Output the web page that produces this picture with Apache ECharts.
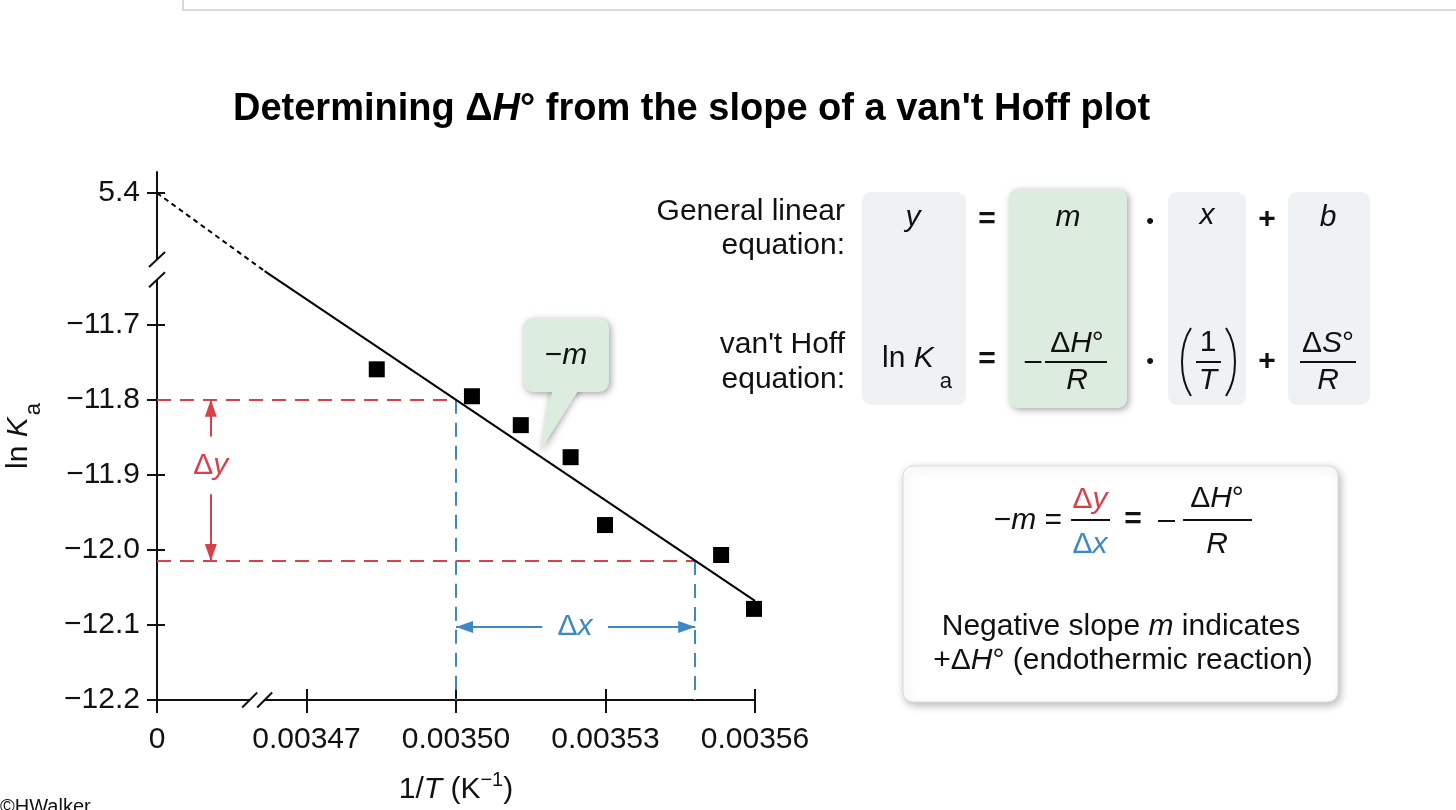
<!DOCTYPE html>
<html><head><meta charset="utf-8">
<script src="https://cdn.jsdelivr.net/npm/echarts@6/dist/echarts.min.js"></script>
<style>html,body{margin:0;padding:0;background:#fff;overflow:hidden}#c{width:1456px;height:810px}</style>
</head><body><div id="c"></div>
<script>
// ---- data ----
const invT = [0.0034841, 0.0035032, 0.0035130, 0.0035230, 0.0035299, 0.0035532, 0.0035598];
const lnKa = [-11.7594, -11.7953, -11.8338, -11.8765, -11.9669, -12.0068, -12.0786];
const xTickValues = [0.00344, 0.00347, 0.00350, 0.00353, 0.00356];
const xTickLabels = ['0', '0.00347', '0.00350', '0.00353', '0.00356'];
const yTickValues = [-12.2, -12.1, -12.0, -11.9, -11.8, -11.7, -11.5245];
const yTickLabels = ['\u221212.2', '\u221212.1', '\u221212.0', '\u221211.9', '\u221211.8', '\u221211.7', '5.4'];
const fitSolidX = [0.0034616, 0.00356];
const fitSolidY = [-11.6285, -12.068];
const fitDashX = [0.00344, 0.0034616];
const fitDashY = [-11.5245, -11.6285];
const slopeX = [0.00350, 0.003548];
const slopeY = [-11.8, -12.0148];
const xRange = [0.00344, 0.00356];
const yRange = [-12.2, -11.4965];
const xBreak = [0.0034586, 0.0034616];
const yBreak = [-11.640, -11.613];
const dyArrowX = 0.0034508;
const dyGap = [-11.849, -11.926];
const dxArrowY = -12.1029;
const dxGap = [0.0035173, 0.0035305];

const FONT = 'Liberation Sans, Arial, Helvetica, sans-serif';
const INK = '#111';
const RED = '#d8404b';
const BLUE = '#3b88c4';

const chart = echarts.init(document.getElementById('c'), null, {renderer: 'canvas'});

function zip(a, b) { return a.map((v, i) => [v, b[i]]); }
function near(a, b) { return Math.abs(a - b) < 1e-9; }

const axisLabelBase = {fontFamily: FONT, fontSize: 30, color: INK};

const option = {
  animation: false,
  backgroundColor: '#fff',
  title: {
    left: 228, top: 86,
    text: '{b|Determining }{b|\u0394}{bi|H}{b|\u00b0 from the slope of a van\'t Hoff plot}',
    textStyle: {
      rich: {
        b: {fontFamily: FONT, fontSize: 38, fontWeight: 'bold', color: '#000'},
        bi: {fontFamily: FONT, fontSize: 38, fontWeight: 'bold', fontStyle: 'italic', color: '#000'}
      }
    }
  },
  grid: {left: 157, top: 172, right: 701, bottom: 109, containLabel: false},
  xAxis: [{
    type: 'value', min: xRange[0], max: xRange[1], position: 'bottom',
    axisLine: {show: true, onZero: false, lineStyle: {color: INK, width: 2}},
    axisTick: {show: true, inside: false, length: 13, customValues: xTickValues, lineStyle: {color: INK, width: 2}},
    axisLabel: {show: true, margin: 25, customValues: xTickValues, ...axisLabelBase,
      formatter: v => { const i = xTickValues.findIndex(t => near(t, v)); return i >= 0 ? xTickLabels[i] : ''; }},
    splitLine: {show: false},
    name: '{n|1/}{i|T}{n| (K}{s|\u22121}{n|)}', nameLocation: 'middle', nameGap: 70,
    nameTextStyle: {rich: {
      n: {fontFamily: FONT, fontSize: 30, color: INK},
      i: {fontFamily: FONT, fontSize: 30, fontStyle: 'italic', color: INK},
      s: {fontFamily: FONT, fontSize: 20, color: INK, padding: [0, 0, 20, 0]}
    }}
  }, {
    type: 'value', min: xRange[0], max: xRange[1], position: 'bottom',
    axisLine: {show: false, onZero: false},
    axisTick: {show: true, inside: true, length: 11, customValues: xTickValues.slice(1), lineStyle: {color: INK, width: 2}},
    axisLabel: {show: false}, splitLine: {show: false}
  }],
  yAxis: [{
    type: 'value', min: yRange[0], max: yRange[1], position: 'left',
    axisLine: {show: true, onZero: false, lineStyle: {color: INK, width: 2}},
    axisTick: {show: true, inside: false, length: 10, customValues: yTickValues, lineStyle: {color: INK, width: 2}},
    axisLabel: {show: true, margin: 17, customValues: yTickValues, ...axisLabelBase,
      formatter: v => { const i = yTickValues.findIndex(t => near(t, v)); return i >= 0 ? yTickLabels[i] : ''; }},
    splitLine: {show: false},
    name: '{n|ln }{i|K}{s|a}', nameLocation: 'middle', nameGap: 112, nameRotate: 90,
    nameTextStyle: {rich: {
      n: {fontFamily: FONT, fontSize: 30, color: INK},
      i: {fontFamily: FONT, fontSize: 30, fontStyle: 'italic', color: INK},
      s: {fontFamily: FONT, fontSize: 22, color: INK, padding: [30, 0, 0, 2]}
    }}
  }, {
    type: 'value', min: yRange[0], max: yRange[1], position: 'left',
    axisLine: {show: false, onZero: false},
    axisTick: {show: true, inside: true, length: 8, customValues: yTickValues.slice(1), lineStyle: {color: INK, width: 2}},
    axisLabel: {show: false}, splitLine: {show: false}
  }],
  series: [
    {type: 'scatter', data: zip(invT, lnKa), symbol: 'rect', symbolSize: 16, itemStyle: {color: '#000', opacity: 1}, z: 10, clip: false},
    {type: 'line', data: zip(fitSolidX, fitSolidY), symbol: 'none', lineStyle: {color: '#000', width: 2}, z: 5, clip: false},
    {type: 'line', data: zip(fitDashX, fitDashY), symbol: 'none', lineStyle: {color: '#000', width: 2, type: [5, 4]}, z: 5, clip: false},
    {type: 'lines', coordinateSystem: 'cartesian2d', z: 3,
      lineStyle: {color: RED, width: 2, type: [14, 9], opacity: 1},
      data: [
        {coords: [[xRange[0], slopeY[0]], [slopeX[0], slopeY[0]]]},
        {coords: [[xRange[0], slopeY[1]], [slopeX[1], slopeY[1]]]}
      ]},
    {type: 'lines', coordinateSystem: 'cartesian2d', z: 3,
      lineStyle: {color: BLUE, width: 2, type: [14, 9], opacity: 1},
      data: [
        {coords: [[slopeX[0], slopeY[0]], [slopeX[0], yRange[0]]]},
        {coords: [[slopeX[1], slopeY[1]], [slopeX[1], yRange[0]]]}
      ]},
    {type: 'lines', coordinateSystem: 'cartesian2d', z: 3,
      lineStyle: {color: RED, width: 2, opacity: 1},
      data: [
        {coords: [[dyArrowX, dyGap[0]], [dyArrowX, slopeY[0]]]},
        {coords: [[dyArrowX, dyGap[1]], [dyArrowX, slopeY[1]]]}
      ]},
    {type: 'lines', coordinateSystem: 'cartesian2d', z: 3,
      lineStyle: {color: BLUE, width: 2, opacity: 1},
      data: [
        {coords: [[dxGap[0], dxArrowY], [slopeX[0], dxArrowY]]},
        {coords: [[dxGap[1], dxArrowY], [slopeX[1], dxArrowY]]}
      ]}
  ]
};
chart.setOption(option);

function P(x, y) { return chart.convertToPixel({seriesIndex: 0}, [x, y]); }

function head(tip, from, color) {
  const dx = tip[0] - from[0], dy = tip[1] - from[1];
  const L = Math.hypot(dx, dy), ux = dx / L, uy = dy / L;
  const len = 17, hw = 6;
  const bx = tip[0] - ux * len, by = tip[1] - uy * len;
  return {type: 'polygon', z: 50, shape: {points: [tip, [bx - uy * hw, by + ux * hw], [bx + uy * hw, by - ux * hw]]}, style: {fill: color}};
}
function txt(x, y, text, align, font) {
  return {type: 'text', z: 60, x: x, y: y,
    style: {text: text, rich: R, align: align || 'center', verticalAlign: 'middle', fill: INK, font: font || ('30px ' + FONT)}};
}
const R = {
  n: {fontFamily: FONT, fontSize: 30, fill: INK},
  i: {fontFamily: FONT, fontSize: 30, fontStyle: 'italic', fill: INK},
  rn: {fontFamily: FONT, fontSize: 30, fill: RED},
  ri: {fontFamily: FONT, fontSize: 30, fontStyle: 'italic', fill: RED},
  bn: {fontFamily: FONT, fontSize: 30, fill: BLUE},
  bi: {fontFamily: FONT, fontSize: 30, fontStyle: 'italic', fill: BLUE},
  sub: {fontFamily: FONT, fontSize: 22, fill: INK, padding: [46, 0, 0, 6]},
  eq: {fontFamily: FONT, fontSize: 30, fontWeight: 'bold', fill: INK}
};
function bar(x1, x2, y) {
  return {type: 'line', z: 60, shape: {x1: x1, y1: y, x2: x2, y2: y}, style: {stroke: INK, lineWidth: 2}};
}

const g = [];
// page frame remnant at top
g.push({type: 'rect', z: 1, shape: {x: 183, y: -20, width: 1400, height: 30}, style: {fill: 'none', stroke: '#d9d9d9', lineWidth: 2}});
g.push({type: 'text', z: 1, x: 0, y: 797, style: {text: '\u00a9HWalker', font: '20px ' + FONT, fill: INK, align: 'left', verticalAlign: 'top'}});

// axis breaks
const yb1 = P(xRange[0], yBreak[0]), yb2 = P(xRange[0], yBreak[1]);
g.push({type: 'rect', z: 40, shape: {x: yb1[0] - 4, y: yb2[1], width: 8, height: yb1[1] - yb2[1]}, style: {fill: '#fff'}});
[yb1, yb2].forEach(p => g.push({type: 'line', z: 41, shape: {x1: p[0] - 8, y1: p[1] + 7.5, x2: p[0] + 8, y2: p[1] - 7.5}, style: {stroke: INK, lineWidth: 2}}));
const xb1 = P(xBreak[0], yRange[0]), xb2 = P(xBreak[1], yRange[0]);
g.push({type: 'rect', z: 40, shape: {x: xb1[0], y: xb1[1] - 4, width: xb2[0] - xb1[0], height: 8}, style: {fill: '#fff'}});
[xb1, xb2].forEach(p => g.push({type: 'line', z: 41, shape: {x1: p[0] - 7.5, y1: p[1] + 7.5, x2: p[0] + 7.5, y2: p[1] - 7.5}, style: {stroke: INK, lineWidth: 2}}));

// arrow heads + labels
g.push(head(P(dyArrowX, slopeY[0]), P(dyArrowX, dyGap[0]), RED));
g.push(head(P(dyArrowX, slopeY[1]), P(dyArrowX, dyGap[1]), RED));
g.push(head(P(slopeX[0], dxArrowY), P(dxGap[0], dxArrowY), BLUE));
g.push(head(P(slopeX[1], dxArrowY), P(dxGap[1], dxArrowY), BLUE));
const dyL = P(dyArrowX, (dyGap[0] + dyGap[1]) / 2);
g.push(txt(dyL[0], dyL[1], '{rn|\u0394}{ri|y}'));
const dxL = P((dxGap[0] + dxGap[1]) / 2, dxArrowY);
g.push(txt(dxL[0], dxL[1], '{bn|\u0394}{bi|x}'));

// callout -m
const SH = {shadowBlur: 7, shadowColor: 'rgba(0,0,0,0.35)', shadowOffsetX: 2, shadowOffsetY: 2};
const GR = '#dcede0', LB = '#eef2f5';
g.push({type: 'polygon', z: 54, shape: {points: [[551, 380], [582, 380], [540, 451]]}, style: Object.assign({fill: GR}, SH)});
g.push({type: 'rect', z: 55, shape: {x: 523, y: 318, width: 86, height: 74, r: 10}, style: Object.assign({fill: GR}, SH)});
g.push({type: 'polygon', z: 56, shape: {points: [[553, 388], [580, 388], [540, 451]]}, style: {fill: GR}});
g.push(txt(566, 356, '{n|\u2212}{i|m}'));

// equation panel
g.push({type: 'rect', z: 20, shape: {x: 862, y: 192, width: 104, height: 213, r: 9}, style: {fill: LB}});
g.push({type: 'rect', z: 20, shape: {x: 1009, y: 189, width: 118, height: 219, r: 9}, style: Object.assign({fill: GR}, SH)});
g.push({type: 'rect', z: 20, shape: {x: 1168, y: 192, width: 78, height: 213, r: 9}, style: {fill: LB}});
g.push({type: 'rect', z: 20, shape: {x: 1288, y: 192, width: 82, height: 213, r: 9}, style: {fill: LB}});
g.push(txt(845, 212, '{n|General linear}', 'right'));
g.push(txt(845, 246, '{n|equation:}', 'right'));
g.push(txt(845, 345, '{n|van\'t Hoff}', 'right'));
g.push(txt(845, 380, '{n|equation:}', 'right'));
// row 1
g.push(txt(913, 218, '{i|y}'));
g.push(txt(987, 220, '{eq|=}'));
g.push(txt(1068, 218, '{i|m}'));
g.push(txt(1150, 222, '\u2022', 'center', '22px ' + FONT));
g.push(txt(1207, 216, '{i|x}'));
g.push(txt(1267, 220, '{eq|+}'));
g.push(txt(1328, 218, '{i|b}'));
// row 2
g.push(txt(917, 359, '{n|ln }{i|K}{sub|a}'));
g.push(txt(987, 360, '{eq|=}'));
g.push(txt(1033, 362, '{n|\u2013}'));
g.push(txt(1077, 344, '{n|\u0394}{i|H}{n|\u00b0}'));
g.push(bar(1045, 1107, 362));
g.push(txt(1077, 381, '{i|R}'));
g.push(txt(1150, 362, '\u2022', 'center', '22px ' + FONT));
g.push({type: 'bezierCurve', z: 60, shape: {x1: 1191, y1: 328, cpx1: 1179, cpy1: 346, cpx2: 1179, cpy2: 378, x2: 1191, y2: 396}, style: {stroke: INK, lineWidth: 2, fill: null}});
g.push({type: 'bezierCurve', z: 60, shape: {x1: 1226, y1: 328, cpx1: 1238, cpy1: 346, cpx2: 1238, cpy2: 378, x2: 1226, y2: 396}, style: {stroke: INK, lineWidth: 2, fill: null}});
g.push(txt(1208, 343, '{n|1}'));
g.push(bar(1196, 1221, 362));
g.push(txt(1208, 381, '{i|T}'));
g.push(txt(1267, 362, '{eq|+}'));
g.push(txt(1328, 344, '{n|\u0394}{i|S}{n|\u00b0}'));
g.push(bar(1300, 1356, 362));
g.push(txt(1328, 381, '{i|R}'));

// result box
g.push({type: 'rect', z: 20, shape: {x: 903, y: 466, width: 435, height: 236, r: 10},
  style: {fill: '#fff', stroke: '#dcdcdc', lineWidth: 1, shadowBlur: 8, shadowColor: 'rgba(0,0,0,0.28)', shadowOffsetX: 2, shadowOffsetY: 3}});
g.push(txt(1062, 521, '{n|\u2212}{i|m}{n| =}', 'right'));
g.push(txt(1090, 500, '{rn|\u0394}{ri|y}'));
g.push(bar(1071, 1110, 520));
g.push(txt(1090, 545, '{bn|\u0394}{bi|x}'));
g.push(txt(1133, 520, '{eq|=}'));
g.push(bar(1158, 1175, 521));
g.push(txt(1217, 499, '{n|\u0394}{i|H}{n|\u00b0}'));
g.push(bar(1183, 1252, 520));
g.push(txt(1217, 545, '{i|R}'));
g.push(txt(1121, 627, '{n|Negative slope }{i|m}{n| indicates}'));
g.push(txt(1123, 661, '{n|+\u0394}{i|H}{n|\u00b0 (endothermic reaction)}'));

chart.setOption({graphic: {elements: g}});
</script></body></html>
